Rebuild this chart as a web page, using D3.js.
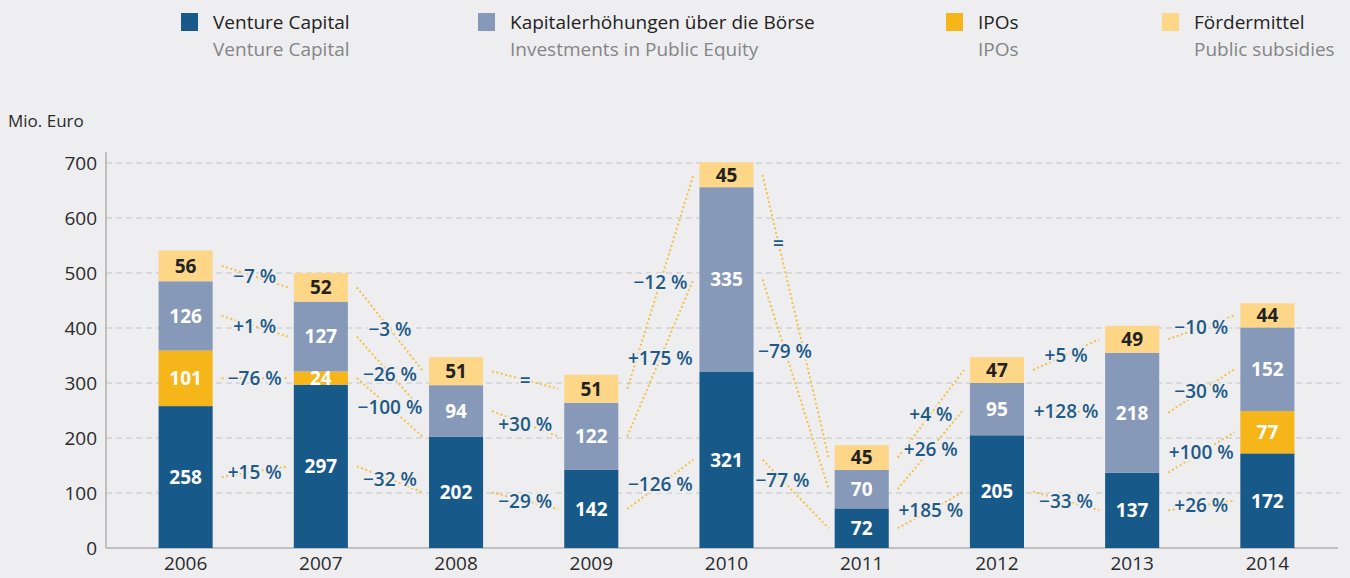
<!DOCTYPE html>
<html>
<head>
<meta charset="utf-8">
<script src="https://cdn.jsdelivr.net/npm/d3@7"></script>
<style>
  body { margin: 0; background: #eeeef0; }
  svg { display: block; font-family: "Open Sans", "Noto Sans", sans-serif; }
</style>
</head>
<body>
<div id="chart"></div>
<script>
const years = ["2006", "2007", "2008", "2009", "2010", "2011", "2012", "2013", "2014"];
const ventureCapital = [258, 297, 202, 142, 321, 72, 205, 137, 172];
const ipos = [101, 24, 0, 0, 0, 0, 0, 0, 77];
const publicEquity = [126, 127, 94, 122, 335, 70, 95, 218, 152];
const subsidies = [56, 52, 51, 51, 45, 45, 47, 49, 44];

// year-on-year change labels, one per gap between two bars
const changeVenture = ["+15 %", "−32 %", "−29 %", "−126 %", "−77 %", "+185 %", "−33 %", "+26 %"];
const changeIpos = ["−76 %", "−100 %", null, null, null, null, null, "+100 %"];
const changeEquity = ["+1 %", "−26 %", "+30 %", "+175 %", "−79 %", "+26 %", "+128 %", "−30 %"];
const changeSubsidies = ["−7 %", "−3 %", "=", "−12 %", "=", "+4 %", "+5 %", "−10 %"];

const yTicks = [0, 100, 200, 300, 400, 500, 600, 700];

const legendTitles = ["Venture Capital", "Kapitalerhöhungen über die Börse", "IPOs", "Fördermittel"];
const legendSubtitles = ["Venture Capital", "Investments in Public Equity", "IPOs", "Public subsidies"];

const width = 1350, height = 578;
const bg = "#eeeef0";
const fs = 19;

const series = [
  { key: "vc", values: ventureCapital, changes: changeVenture, color: "#175a89", text: "#fff" },
  { key: "ipo", values: ipos, changes: changeIpos, color: "#f6b518", text: "#fff" },
  { key: "pe", values: publicEquity, changes: changeEquity, color: "#8799b8", text: "#fff" },
  { key: "fm", values: subsidies, changes: changeSubsidies, color: "#fdd688", text: "#222" }
];
const legendOrder = ["vc", "pe", "ipo", "fm"];
const legendX = [181, 478, 946, 1162];

const table = years.map((y, i) => {
  const row = { year: y };
  series.forEach(s => row[s.key] = s.values[i]);
  return row;
});
const stacked = d3.stack().keys(series.map(s => s.key))(table);

const svg = d3.select("#chart").append("svg")
  .attr("width", width).attr("height", height)
  .attr("viewBox", `0 0 ${width} ${height}`);

svg.append("rect").attr("width", width).attr("height", height).attr("fill", bg);

const x = d3.scaleBand()
  .domain(years)
  .range([118, 1335])
  .paddingInner(0.6)
  .paddingOuter(0.3);

const y = d3.scaleLinear()
  .domain([0, 700])
  .range([548, 163]);

// grid
svg.append("g")
  .selectAll("line")
  .data(yTicks.filter(t => t > 0))
  .join("line")
    .attr("x1", 106).attr("x2", 1340)
    .attr("y1", d => y(d)).attr("y2", d => y(d))
    .attr("stroke", "#c4c4c6")
    .attr("stroke-width", 1)
    .attr("stroke-dasharray", "6,4");

// y axis
const yAxis = svg.append("g")
  .attr("transform", "translate(106,0)")
  .call(d3.axisLeft(y).tickValues(yTicks).tickSize(0).tickPadding(9));
yAxis.select(".domain").remove();
yAxis.selectAll("text")
  .attr("font-size", fs).attr("fill", "#2a2a2a")
  .attr("font-family", "Open Sans, sans-serif");

svg.append("line")
  .attr("x1", 106).attr("x2", 106).attr("y1", 152).attr("y2", y(0))
  .attr("stroke", "#b0b0b2").attr("stroke-width", 1.5);

// x axis
const xAxis = svg.append("g")
  .attr("transform", `translate(0,${y(0)})`)
  .call(d3.axisBottom(x).tickSize(0).tickPadding(9));
xAxis.select(".domain").remove();
xAxis.selectAll("text")
  .attr("font-size", fs).attr("fill", "#2a2a2a")
  .attr("font-family", "Open Sans, sans-serif");

svg.append("line")
  .attr("x1", 106).attr("x2", 1338).attr("y1", y(0)).attr("y2", y(0))
  .attr("stroke", "#b0b0b2").attr("stroke-width", 1.5);

svg.append("text")
  .attr("x", 8).attr("y", 127)
  .attr("font-size", 17).attr("fill", "#2a2a2a")
  .text("Mio. Euro");

// connectors between bars
const mid = (layer, i) => y((layer[i][0] + layer[i][1]) / 2);
const gapLeft = i => x(years[i]) + x.bandwidth() + 9;
const gapRight = i => x(years[i + 1]) - 6;

// where along the connector its label sits (default: middle)
const labelAt = { "fm-4": 0.24, "pe-4": 0.34, "vc-4": 0.3 };

const connectors = [];
stacked.forEach((layer, si) => {
  const s = series[si];
  s.changes.forEach((label, i) => {
    if (label === null) return;
    const x1 = gapLeft(i), x2 = gapRight(i);
    const y1 = mid(layer, i), y2 = mid(layer, i + 1);
    const t = labelAt[`${s.key}-${i}`] ?? 0.5;
    connectors.push({ x1, x2, y1, y2, label, lx: x1 + (x2 - x1) * t, ly: y1 + (y2 - y1) * t });
  });
});

svg.append("g")
  .selectAll("line")
  .data(connectors)
  .join("line")
    .attr("x1", d => d.x1).attr("x2", d => d.x2)
    .attr("y1", d => d.y1).attr("y2", d => d.y2)
    .attr("stroke", "#f2c146")
    .attr("stroke-width", 2)
    .attr("stroke-dasharray", "2,2.5");

// bars
svg.append("g")
  .selectAll("g")
  .data(stacked)
  .join("g")
    .attr("fill", (d, i) => series[i].color)
  .selectAll("rect")
  .data(d => d)
  .join("rect")
    .attr("x", d => x(d.data.year))
    .attr("y", d => y(d[1]))
    .attr("width", x.bandwidth())
    .attr("height", d => y(d[0]) - y(d[1]));

// values inside bars
stacked.forEach((layer, si) => {
  svg.append("g")
    .selectAll("text")
    .data(layer.filter(d => d[1] - d[0] > 0))
    .join("text")
      .attr("x", d => x(d.data.year) + x.bandwidth() / 2)
      .attr("y", d => y((d[0] + d[1]) / 2))
      .attr("dy", "0.36em")
      .attr("text-anchor", "middle")
      .attr("font-size", fs)
      .attr("font-weight", 700)
      .attr("fill", series[si].text)
      .text(d => d[1] - d[0]);
});

// change labels
svg.append("g")
  .selectAll("text")
  .data(connectors)
  .join("text")
    .attr("x", d => d.lx)
    .attr("y", d => d.ly)
    .attr("dy", "0.36em")
    .attr("text-anchor", "middle")
    .attr("font-size", fs)
    .attr("font-weight", 600)
    .attr("fill", "#1d5a86")
    .attr("stroke", bg)
    .attr("stroke-width", 4)
    .attr("paint-order", "stroke")
    .text(d => d.label);

// legend
const legend = svg.append("g")
  .selectAll("g")
  .data(legendOrder)
  .join("g")
    .attr("transform", (d, i) => `translate(${legendX[i]},0)`);

legend.append("rect")
  .attr("y", 13).attr("width", 17).attr("height", 18)
  .attr("fill", d => series.find(s => s.key === d).color);

legend.append("text")
  .attr("x", 32).attr("y", 29)
  .attr("font-size", fs).attr("fill", "#222")
  .text((d, i) => legendTitles[i]);

legend.append("text")
  .attr("x", 32).attr("y", 56)
  .attr("font-size", fs).attr("fill", "#858587")
  .text((d, i) => legendSubtitles[i]);
</script>
</body>
</html>
